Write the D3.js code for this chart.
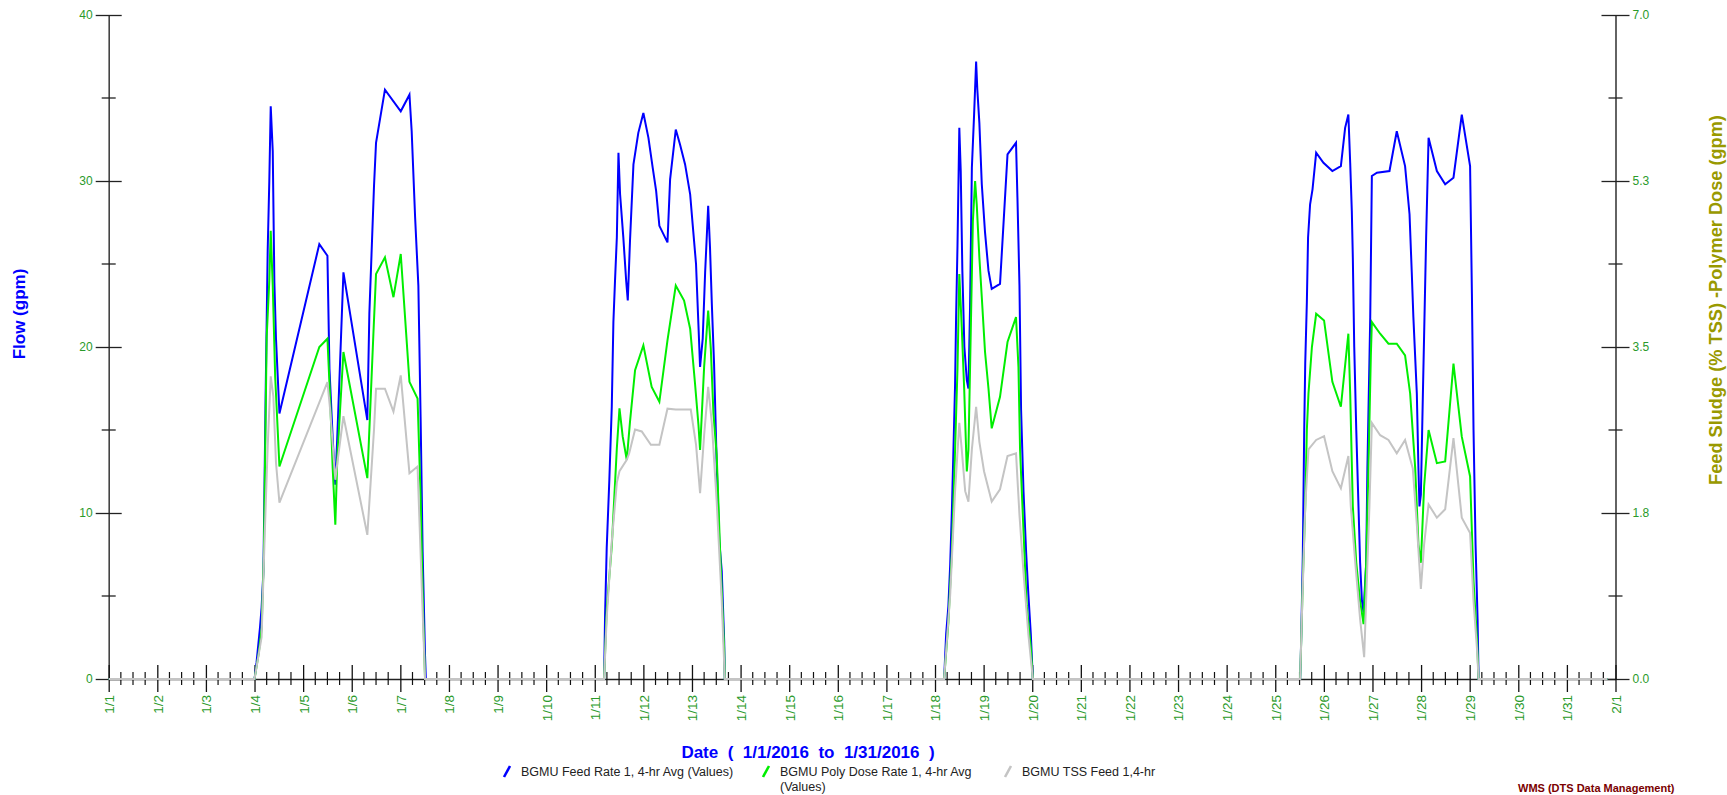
<!DOCTYPE html>
<html>
<head>
<meta charset="utf-8">
<script src="https://cdn.jsdelivr.net/npm/d3@7"></script>
<style>
  body { margin: 0; background: #fff; }
  svg { display: block; font-family: Arial, "Liberation Sans", sans-serif; }
</style>
</head>
<body>
<svg id="chart" width="1727" height="795"></svg>
<script>
// hours since 1/1/2016 00:00, value
const feedRate = [
  [0,0],[72,0],[73,1],[74.7,3.1],[75.5,4.3],[76.4,6.5],[77.5,17.2],[78,21.5],[78.5,25.8],[79.3,30],[80,34.5],[81,31.8],[81.8,23.9],[82.6,20.5],[84.3,16],
  [104,26.2],[108,25.5],[109,18.7],[110.6,14.5],[111.9,11.7],[112.9,14.7],[115.9,24.5],[127.7,15.6],[128.7,22],[131,29.7],[132,32.3],[136.4,35.5],
  [144.2,34.2],[148.5,35.2],[149.6,33],[151.3,27.8],[152.9,23.7],[154,15.8],[155,7.7],[156.2,1.4],[156.6,0],
  [244.6,0],[245.1,3.9],[245.9,7.9],[247.2,12],[248.4,16.4],[249.2,21.5],[250,24],[250.9,26.6],[251.7,31.7],[252.5,29.2],[254.1,26.6],[255.5,24],
  [256.3,22.8],[257.4,26.4],[259.1,31],[261.5,32.9],[264,34.1],[266.5,32.6],[268.6,30.8],[270.3,29.4],[271.9,27.3],[275.9,26.3],[277.2,30.1],
  [280,33.1],[282.1,32.2],[284.6,31],[287.1,29.2],[288.4,27.3],[290,25],[291.2,21.3],[292,18.8],[293.3,20.5],[294.5,24.5],[296,28.5],[296.9,26],
  [297.8,22.6],[298.9,19],[300.2,13],[301.5,8.3],[302.7,6.5],[303.9,2.3],[304.2,0],
  [412.5,0],[413.5,2.7],[414.6,4.4],[415.5,6.9],[416.3,10],[417.1,13.8],[417.9,17.7],[418.4,21.7],[419.1,26.1],[420,33.2],[420.7,30.6],[421.5,24.6],
  [422.5,20],[423.7,18],[424.5,17.5],[425.3,22.4],[426.2,30.8],[427.3,34],[428.3,37.2],[428.9,35.5],[429.9,33.5],[431.1,29.8],[432.7,26.9],
  [434.4,24.6],[436,23.5],[440.1,23.8],[443.8,31.6],[448,32.3],[448.7,29],[449.7,23.7],[450.5,16.2],[451.7,11.3],[453,7.6],[454.1,5.1],[455.3,2.7],[456.3,0],
  [588.3,0],[588.6,1.3],[589,3.6],[589.6,7.4],[590.3,15],[590.8,19],[591.6,22.7],[592.2,26.6],[593.2,28.6],[594.4,29.5],[596.2,31.7],[599.8,31.1],
  [604.2,30.6],[608.4,30.9],[610.5,33.2],[612.1,34],[613,31.1],[613.8,28.2],[614.3,25.4],[615,20],[616,15],[617.1,10.4],[617.9,7],[618.8,4.7],
  [619.6,4],[620.9,7],[621.5,12.7],[622.9,21.8],[623.7,30.3],[626.2,30.5],[632.4,30.6],[636,33],[640.1,30.9],[642.3,28],[643.4,24.5],[644.2,21.8],
  [645.9,17.2],[646.7,12.7],[647.2,10.4],[647.9,11.1],[648.9,17.2],[649.5,20.7],[650.5,26.6],[651.7,32.6],[655.8,30.6],[659.9,29.8],[664,30.2],
  [668.1,34],[672.2,30.9],[673.1,23.2],[673.9,15],[674.9,8.1],[675.9,3.6],[676.4,0],
  [740,0]
];

const polyDose = [
  [0,0],[72,0],[74,1.5],[75.5,3],[76.6,7.4],[78,20.6],[79.3,24],[80,27],[81,23.7],[82.2,18.2],[84.3,12.8],
  [104,20],[108,20.5],[109.3,17],[110.6,12.7],[111.9,9.3],[112.9,13.4],[115.9,19.7],[127.7,12.1],[130.7,20.8],[132,24.4],[136.4,25.4],
  [140.6,23],[144.2,25.6],[148.5,17.9],[152.5,16.9],[154,11],[155.3,3.8],[156.2,0],
  [244.6,0],[245.9,4.2],[248.4,8],[250.9,13.9],[252.2,16.3],[253.8,14.6],[255.8,13.2],[257.4,15.5],[259.9,18.6],[264,20.1],[268.1,17.6],
  [271.9,16.7],[275.9,20.4],[280,23.7],[284.1,22.8],[287.1,21.1],[289.5,17.8],[291.2,15.3],[292,13.8],[294,18.8],[296,22.2],[297.3,19.9],
  [298.6,16],[300.2,13.5],[301.9,7.7],[303.9,1.8],[304.2,0],
  [412.5,0],[414.6,3.4],[416.3,7.6],[417.9,13.8],[419.1,18.7],[420,24.4],[421.2,21.2],[422.4,17.5],[423.7,12.5],[424.5,13.8],[425.3,18.7],
  [426.7,27.6],[427.8,30],[428.6,28.6],[429.9,25.4],[431.1,23],[432.7,19.7],[434.4,17.5],[436,15.1],[440.1,17],[443.8,20.3],[448,21.8],
  [449.2,18.8],[450,13.8],[451.7,8.9],[453.3,4.4],[455.3,1.9],[456.3,0],
  [588.3,0],[588.6,1.3],[589.6,5.9],[590.8,10.4],[591.6,15],[592.4,17.2],[594.1,20],[596.2,22],[600.1,21.6],[604.2,17.9],[608.4,16.4],
  [612.1,20.8],[613,17.2],[614.3,10.4],[616,7],[617.9,4.7],[619.6,3.3],[620.9,7],[622,12.7],[623.2,19.5],[623.7,21.5],[627.8,20.8],
  [631.9,20.2],[636,20.2],[640.1,19.5],[642.6,17.2],[645.1,12.7],[646.7,8.1],[647.9,7],[649.5,11.6],[651.7,15],[655.8,13],[659.9,13.1],
  [664,19],[668.1,14.6],[672.2,12.2],[673.9,5.9],[675.6,2.4],[676.4,0],
  [740,0]
];

// right axis units
const tssFeed = [
  [0,0],[72,0],[75.5,0.44],[77,1.5],[78.5,2.45],[80,3.19],[81.3,2.98],[82.6,2.28],[84.3,1.86],
  [108,3.13],[109.3,2.85],[111.9,2.1],[112.9,2.28],[115.9,2.77],[127.7,1.52],[131,2.63],[132,3.06],[136.4,3.06],[140.6,2.82],[144.2,3.2],
  [148.5,2.17],[152.5,2.24],[154.6,0.96],[156.2,0],
  [244.6,0],[245.9,0.65],[248.4,1.45],[250.9,2.07],[252.2,2.19],[255.8,2.31],[257,2.38],[259.9,2.63],[263.2,2.61],[267.7,2.47],[271.9,2.47],
  [275.9,2.85],[280,2.84],[287.4,2.84],[290,2.47],[292,1.96],[294,2.57],[296,3.08],[297.8,2.7],[300.2,1.87],[302.7,0.82],[304.2,0],
  [412.5,0],[415.5,0.89],[417.9,1.98],[420,2.7],[421.2,2.42],[422.9,1.98],[424.5,1.87],[426.2,2.42],[428.3,2.87],[429.9,2.5],[432.2,2.19],
  [436,1.87],[440.1,2.0],[443.8,2.35],[448,2.38],[449.7,1.73],[451.7,1.12],[454.1,0.47],[456.3,0],
  [588.3,0],[589.1,0.63],[590.8,1.82],[592.4,2.42],[596.2,2.52],[600.1,2.56],[604.2,2.19],[608.4,2.01],[612.1,2.35],[613.3,1.82],[615.5,1.23],
  [617.9,0.63],[619.9,0.23],[621.2,1.03],[622.5,1.82],[623.7,2.7],[627.8,2.57],[631.9,2.52],[636,2.38],[640.1,2.52],[643.9,2.22],[645.9,1.63],
  [647.9,0.95],[649.5,1.42],[651.7,1.84],[655.8,1.7],[659.9,1.79],[664,2.54],[668.1,1.7],[672.2,1.54],[673.9,0.82],[675.6,0.32],[676.4,0],
  [740,0]
];

const dayLabels = ['1/1','1/2','1/3','1/4','1/5','1/6','1/7','1/8','1/9','1/10','1/11','1/12','1/13','1/14','1/15','1/16',
  '1/17','1/18','1/19','1/20','1/21','1/22','1/23','1/24','1/25','1/26','1/27','1/28','1/29','1/30','1/31','2/1'];
const leftTicks = [0, 10, 20, 30, 40];
const leftMinor = [5, 15, 25, 35];
const rightTicks = [0, 1.75, 3.5, 5.25, 7];
const rightMinor = [0.875, 2.625, 4.375, 6.125];

const legendItems = [
  {name: ['BGMU Feed Rate 1, 4-hr Avg (Values)'], color: '#0000ff'},
  {name: ['BGMU Poly Dose Rate 1, 4-hr Avg', '(Values)'], color: '#00ee00'},
  {name: ['BGMU TSS Feed 1,4-hr'], color: '#c4c4c4'}
];

const tickColor = '#2a9a2a';
const svg = d3.select('#chart');

const plotLeft = 108.7, plotRight = 1615.5, plotTop = 15, plotBottom = 679;

const x = d3.scaleLinear().domain([0, 744]).range([plotLeft, plotRight]);
const yL = d3.scaleLinear().domain([0, 40]).range([plotBottom, plotTop]);
const yR = d3.scaleLinear().domain([0, 7]).range([plotBottom, plotTop]);

// left axis
const gL = svg.append('g').attr('transform', `translate(${plotLeft},0)`)
  .call(d3.axisLeft(yL).tickValues(leftTicks).tickSize(13).tickSizeOuter(0).tickPadding(3).tickFormat(d3.format('d')));
gL.selectAll('.tick line').attr('x1', 13).attr('stroke', '#222').attr('stroke-width', 1.3);
gL.selectAll('.tick text').attr('fill', tickColor).style('font-size', '12px').style('font-family', 'Arial, "Liberation Sans"');
gL.select('.domain').attr('stroke', '#444').attr('stroke-width', 1.6);
gL.selectAll('.minor').data(leftMinor).enter().append('line')
  .attr('x1', -7).attr('x2', 7).attr('y1', d => yL(d)).attr('y2', d => yL(d))
  .attr('stroke', '#222').attr('stroke-width', 1.3);

// right axis
const gR = svg.append('g').attr('transform', `translate(${plotRight},0)`)
  .call(d3.axisRight(yR).tickValues(rightTicks).tickSize(14).tickSizeOuter(0).tickPadding(3).tickFormat(d3.format('.1f')));
gR.selectAll('.tick line').attr('x1', -14).attr('stroke', '#222').attr('stroke-width', 1.3);
gR.selectAll('.tick text').attr('fill', tickColor).style('font-size', '12px').style('font-family', 'Arial, "Liberation Sans"');
gR.select('.domain').attr('stroke', '#222').attr('stroke-width', 1.4);
gR.selectAll('.minor').data(rightMinor).enter().append('line')
  .attr('x1', -7).attr('x2', 7).attr('y1', d => yR(d)).attr('y2', d => yR(d))
  .attr('stroke', '#222').attr('stroke-width', 1.3);

// bottom axis
const dayHours = dayLabels.map((d, i) => i * 24);
const gX = svg.append('g').attr('transform', `translate(0,${plotBottom})`)
  .call(d3.axisBottom(x).tickValues(dayHours).tickSize(13).tickSizeOuter(0).tickFormat((d, i) => dayLabels[i]));
gX.selectAll('.tick line').attr('y1', -14).attr('stroke', '#111').attr('stroke-width', 1.3);
gX.select('.domain').attr('stroke', '#222').attr('stroke-width', 1.4);
gX.selectAll('.tick text')
  .attr('transform', 'rotate(-90)')
  .attr('x', -16).attr('y', 0).attr('dy', '0.36em')
  .style('text-anchor', 'end')
  .attr('fill', tickColor).style('font-size', '13.5px').style('font-family', 'Arial, "Liberation Sans"');
const minorHours = d3.range(0, 744, 6).filter(h => h % 24 !== 0);
gX.selectAll('.minor').data(minorHours).enter().append('line')
  .attr('x1', d => x(d)).attr('x2', d => x(d)).attr('y1', -7).attr('y2', 6)
  .attr('stroke', '#111').attr('stroke-width', 1.2);

// series
const lineL = d3.line().x(d => x(d[0])).y(d => yL(d[1]));
const lineR = d3.line().x(d => x(d[0])).y(d => yR(d[1]));

svg.append('path').datum(feedRate).attr('d', lineL)
  .attr('fill', 'none').attr('stroke', '#0000ff').attr('stroke-width', 2);
svg.append('path').datum(polyDose).attr('d', lineL)
  .attr('fill', 'none').attr('stroke', '#00ee00').attr('stroke-width', 2);
svg.append('path').datum(tssFeed).attr('d', lineR)
  .attr('fill', 'none').attr('stroke', '#c4c4c4').attr('stroke-width', 2);

// axis titles
svg.append('text')
  .attr('transform', 'translate(19,314) rotate(-90)')
  .attr('text-anchor', 'middle').attr('dy', '0.35em')
  .attr('fill', '#0000ff').style('font-weight', 'bold').style('font-size', '17px')
  .text('Flow (gpm)');

svg.append('text')
  .attr('transform', 'translate(1716,300) rotate(-90)')
  .attr('text-anchor', 'middle').attr('dy', '0.35em')
  .attr('fill', '#999900').style('font-weight', 'bold').style('font-size', '18.2px')
  .text('Feed Sludge (% TSS) -Polymer Dose (gpm)');

svg.append('text')
  .attr('x', 808).attr('y', 758)
  .attr('text-anchor', 'middle')
  .attr('fill', '#0000ff').style('font-weight', 'bold').style('font-size', '17px')
  .style('white-space', 'pre').attr('xml:space', 'preserve')
  .text('Date  (  1/1/2016  to  1/31/2016  )');

// legend
const legendX = [503, 762, 1004];
const legend = svg.selectAll('.legend').data(legendItems).enter().append('g')
  .attr('transform', (d, i) => `translate(${legendX[i]},776)`);
legend.append('line')
  .attr('x1', 1).attr('y1', 1).attr('x2', 7).attr('y2', -10)
  .attr('stroke', d => d.color).attr('stroke-width', 2.6);
legend.append('text')
  .attr('x', 18).attr('y', 0)
  .attr('fill', '#222').style('font-size', '12.5px')
  .selectAll('tspan').data(d => d.name).enter().append('tspan')
  .attr('x', 18).attr('dy', (d, i) => i === 0 ? 0 : 15)
  .text(d => d);

svg.append('text')
  .attr('x', 1518).attr('y', 792)
  .attr('fill', '#7a0000').style('font-weight', 'bold').style('font-size', '11px')
  .text('WMS (DTS Data Management)');
</script>
</body>
</html>
